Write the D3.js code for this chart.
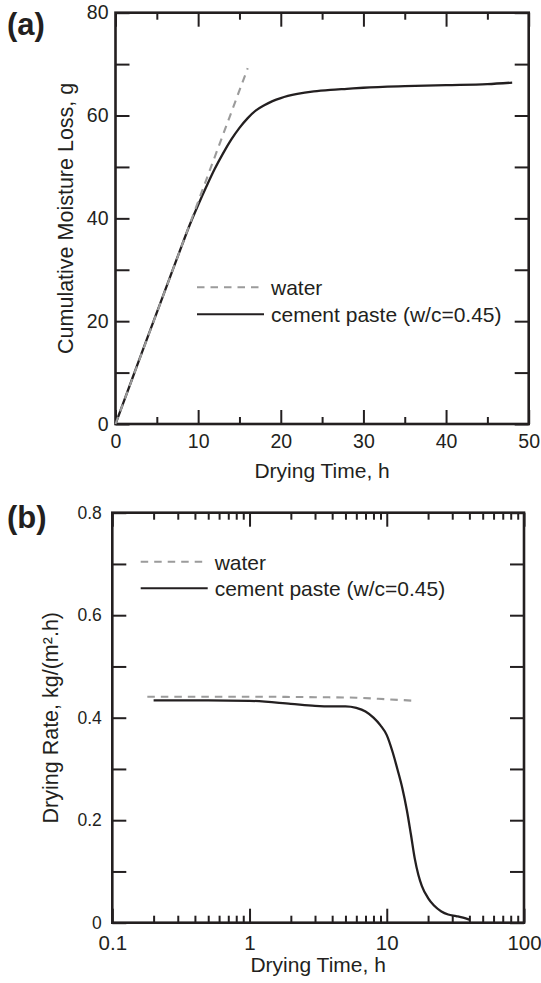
<!DOCTYPE html>
<html>
<head>
<meta charset="utf-8">
<script src="https://cdn.jsdelivr.net/npm/d3@7"></script>
<style>
  body { margin: 0; background: #fff; }
  svg { display: block; font-family: "Liberation Sans", Arial, sans-serif; }
  .tick text { fill: #231f20; }
</style>
</head>
<body>
<svg id="chart" width="541" height="983"></svg>
<script>
// (a) cumulative moisture loss vs drying time
var lossWaterTime = [0, 16];
var lossWater = [0, 69.2];
var lossPasteTime = [0, 2, 4, 6, 8, 9, 10, 11, 12, 13, 14, 15, 16, 17, 18, 19, 20, 22, 24, 26, 28, 30, 35, 40, 45, 48];
var lossPaste = [0, 8.7, 17.4, 26, 34.6, 38.8, 42.6, 46.2, 49.6, 52.6, 55.3, 57.6, 59.5, 61, 62, 62.8, 63.4, 64.2, 64.7, 65.0, 65.2, 65.4, 65.7, 65.9, 66.1, 66.4];
var lossXTicks = [0, 10, 20, 30, 40, 50];
var lossXMinor = [5, 15, 25, 35, 45];
var lossYTicks = [0, 10, 20, 30, 40, 50, 60, 70, 80];
var lossYLabels = [0, 20, 40, 60, 80];

// (b) drying rate vs drying time (log)
var rateWaterTime = [0.18, 1, 3, 6, 10, 16];
var rateWater = [0.441, 0.441, 0.440, 0.439, 0.436, 0.433];
var ratePasteTime = [0.2, 0.5, 1, 2, 3, 4, 5, 6, 7, 8, 9, 10, 11, 12, 13, 14, 15, 16, 17, 18, 20, 22, 25, 28, 32, 36, 40];
var ratePaste = [0.434, 0.434, 0.433, 0.427, 0.423, 0.422, 0.422, 0.419, 0.412, 0.400, 0.385, 0.366, 0.334, 0.298, 0.262, 0.220, 0.172, 0.125, 0.093, 0.072, 0.048, 0.034, 0.022, 0.016, 0.013, 0.010, 0.006];
var rateXTicks = [0.1, 1, 10, 100];
var rateXLabels = ['0.1', '1', '10', '100'];
var rateXMinor = [0.2, 0.3, 0.4, 0.5, 0.6, 0.7, 0.8, 0.9, 2, 3, 4, 5, 6, 7, 8, 9, 20, 30, 40, 50, 60, 70, 80, 90];
var rateYTicks = [0, 0.1, 0.2, 0.3, 0.4, 0.5, 0.6, 0.7, 0.8];
var rateYLabels = [0, 0.2, 0.4, 0.6, 0.8];

var legendNames = ['water', 'cement paste (w/c=0.45)'];

var svg = d3.select('#chart');
var INK = '#231f20';
var GREY = '#9b9b9b';

function zip (xs, ys) {
  return xs.map(function (d, i) { return [d, ys[i]]; });
}

function tickAxis (g, axis, size) {
  g.call(axis.tickSize(-size))
    .call(function (s) { s.select('.domain').remove(); });
  g.selectAll('.tick line').attr('stroke', INK).attr('stroke-width', 2);
  return g;
}

function panel (opts) {
  var x = opts.x, y = opts.y;
  var x0 = x.range()[0], x1 = x.range()[1];
  var y0 = y.range()[0], y1 = y.range()[1];
  var g = svg.append('g');

  // major + minor ticks, mirrored on all four sides
  var fmtX = opts.fmtX, fmtY = opts.fmtY;
  tickAxis(g.append('g').attr('transform', 'translate(0,' + y0 + ')'),
    d3.axisBottom(x).tickValues(opts.xTicks).tickFormat(fmtX).tickPadding(opts.xPad), 14)
    .selectAll('text').attr('font-size', opts.xFont);
  tickAxis(g.append('g').attr('transform', 'translate(0,' + y1 + ')'),
    d3.axisTop(x).tickValues(opts.xTicks).tickFormat(''), 14);
  tickAxis(g.append('g').attr('transform', 'translate(0,' + y0 + ')'),
    d3.axisBottom(x).tickValues(opts.xMinor).tickFormat(''), 7);
  tickAxis(g.append('g').attr('transform', 'translate(0,' + y1 + ')'),
    d3.axisTop(x).tickValues(opts.xMinor).tickFormat(''), 7);
  tickAxis(g.append('g').attr('transform', 'translate(' + x0 + ',0)'),
    d3.axisLeft(y).tickValues(opts.yTicks).tickFormat(fmtY).tickPadding(opts.yPad), 14)
    .selectAll('text').attr('font-size', opts.yFont);
  tickAxis(g.append('g').attr('transform', 'translate(' + x1 + ',0)'),
    d3.axisRight(y).tickValues(opts.yTicks).tickFormat(''), 14);

  g.append('rect')
    .attr('x', x0).attr('y', y1)
    .attr('width', x1 - x0).attr('height', y0 - y1)
    .attr('fill', 'none').attr('stroke', INK).attr('stroke-width', 2.6);

  var line = d3.line()
    .x(function (d) { return x(d[0]); })
    .y(function (d) { return y(d[1]); })
    .curve(d3.curveMonotoneX);

  g.append('path').datum(opts.paste)
    .attr('d', line).attr('fill', 'none')
    .attr('stroke', INK).attr('stroke-width', 2.3);
  g.append('path').datum(opts.water)
    .attr('d', line).attr('fill', 'none')
    .attr('stroke', GREY).attr('stroke-width', 2.1)
    .attr('stroke-dasharray', '7.5,6');

  // legend
  var lg = g.append('g');
  [0, 1].forEach(function (i) {
    var ly = opts.legend.y + i * opts.legend.gap;
    lg.append('line')
      .attr('x1', opts.legend.x).attr('x2', opts.legend.x + (i ? 67 : 64))
      .attr('y1', ly).attr('y2', ly)
      .attr('stroke', i ? INK : GREY).attr('stroke-width', 2.1)
      .attr('stroke-dasharray', i ? null : '7.5,6');
    lg.append('text')
      .attr('x', opts.legend.x + 74).attr('y', ly + 8)
      .attr('font-size', 21).attr('fill', INK)
      .text(legendNames[i]);
  });

  // axis titles
  g.append('text')
    .attr('x', (x0 + x1) / 2).attr('y', opts.xTitleY)
    .attr('text-anchor', 'middle').attr('font-size', 21).attr('fill', INK)
    .text('Drying Time, h');
  g.append('text')
    .attr('transform', 'translate(' + opts.yTitleX + ',' + (y0 + y1) / 2 + ') rotate(-90)')
    .attr('text-anchor', 'middle').attr('font-size', 21.5).attr('fill', INK)
    .text(opts.yTitle);

  svg.append('text')
    .attr('x', 7).attr('y', opts.tagY)
    .attr('font-size', 31).attr('font-weight', 'bold').attr('fill', INK)
    .text(opts.tag);
}

panel({
  x: d3.scaleLinear().domain([0, 50]).range([115.5, 528.7]),
  y: d3.scaleLinear().domain([0, 80]).range([424, 12.7]),
  xTicks: lossXTicks, xMinor: lossXMinor, yTicks: lossYTicks,
  fmtX: function (d) { return d; },
  fmtY: function (d) { return lossYLabels.indexOf(d) >= 0 ? d : ''; },
  xPad: 10, yPad: 7, xFont: 19.5, yFont: 19.5,
  water: zip(lossWaterTime, lossWater),
  paste: zip(lossPasteTime, lossPaste),
  legend: { x: 197, y: 287.3, gap: 27 },
  xTitleY: 478, yTitleX: 73,
  yTitle: 'Cumulative Moisture Loss, g',
  tag: '(a)', tagY: 35
});

panel({
  x: d3.scaleLog().domain([0.1, 100]).range([112.3, 524]),
  y: d3.scaleLinear().domain([0, 0.8]).range([922.7, 512.7]),
  xTicks: rateXTicks, xMinor: rateXMinor, yTicks: rateYTicks,
  fmtX: function (d) { return rateXLabels[rateXTicks.indexOf(d)]; },
  fmtY: function (d) { return rateYLabels.indexOf(d) >= 0 ? (d === 0 ? '0' : d3.format('.1f')(d)) : ''; },
  xPad: 13, yPad: 10.5, xFont: 20.5, yFont: 17.5,
  water: zip(rateWaterTime, rateWater),
  paste: zip(ratePasteTime, ratePaste),
  legend: { x: 140.7, y: 561.7, gap: 26.6 },
  xTitleY: 972, yTitleX: 58,
  yTitle: 'Drying Rate, kg/(m\u00b2.h)',
  tag: '(b)', tagY: 528
});
</script>
</body>
</html>
